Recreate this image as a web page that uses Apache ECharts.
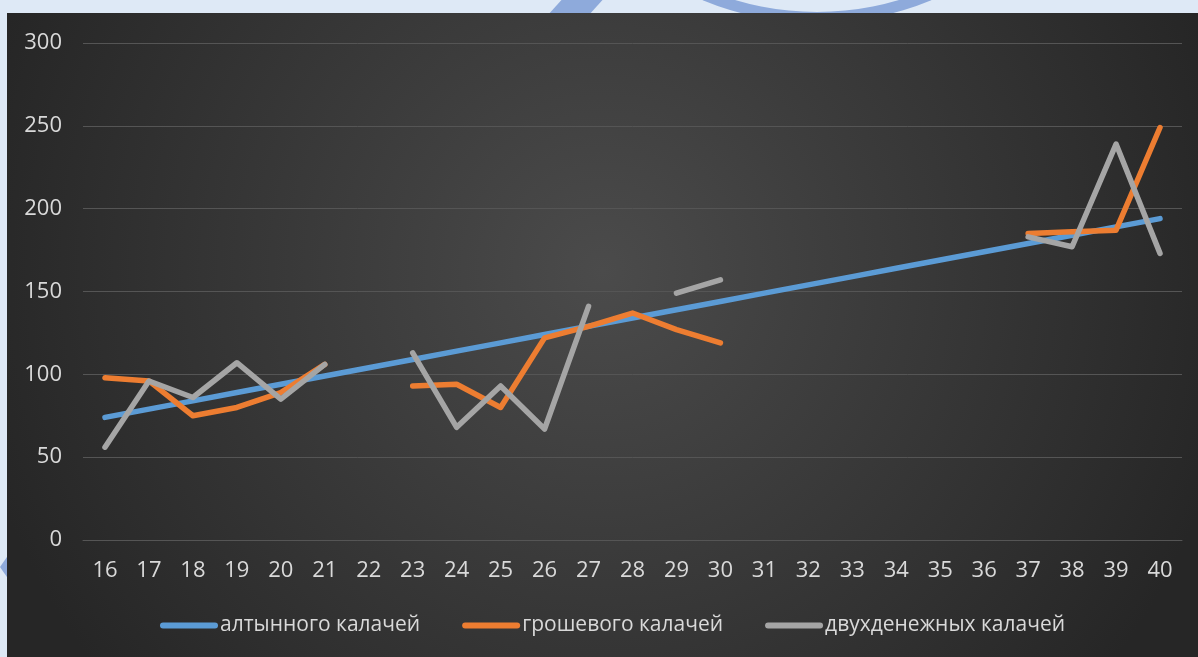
<!DOCTYPE html>
<html>
<head>
<meta charset="utf-8">
<script src="https://cdn.jsdelivr.net/npm/echarts@6/dist/echarts.min.js"></script>
<style>
html,body{margin:0;padding:0;background:#dee9f6;}
#chart{width:1198px;height:657px;}
</style>
</head>
<body>
<div id="chart"></div>
<script>
const categories = ['16','17','18','19','20','21','22','23','24','25','26','27','28','29','30','31','32','33','34','35','36','37','38','39','40'];
const altynnogo = [74,79,84,89,94,99,104,109,114,119,124,129,134,139,144,149,154,159,164,169,174,179,184,189,194];
const groshevogo = [98,96,75,80,89,106,null,93,94,80,122,129,137,127,119,null,null,null,null,null,null,185,186,187,249];
const dvukhdenezhnykh = [56,96,86,107,85,106,null,113,68,93,67,141,null,149,157,null,null,null,null,null,null,183,177,239,173];
const seriesNames = ['алтынного калачей','грошевого калачей','двухденежных калачей'];
const colors = ['#5b9bd5','#ed7d31','#a5a5a5'];
const yTicks = {min:0, max:300, interval:50};

const chart = echarts.init(document.getElementById('chart'));
const font = '"Open Sans", "Noto Sans", sans-serif';
const legendIcon = 'path://M3,0 L55,0 A3,3 0 0 1 55,6 L3,6 A3,3 0 0 1 3,0 Z';

function mk(i, data){
  return {
    name: seriesNames[i], type:'line', data:data, showSymbol:false, symbol:'none',
    connectNulls:false, smooth:false,
    lineStyle:{color:colors[i], width:5.5, cap:'round', join:'round'},
    itemStyle:{color:colors[i]}, emphasis:{disabled:true}
  };
}

chart.setOption({
  backgroundColor:'#dee9f6',
  animation:false,
  textStyle:{fontFamily:font},
  graphic:[
    {type:'ring', z:-30, silent:true, shape:{cx:817, cy:-274, r:297, r0:286}, style:{fill:'#8eaadb'}},
    {type:'polygon', z:-30, silent:true, shape:{points:[[566,-5],[607,-5],[588,16],[547,16]]}, style:{fill:'#8eaadb'}},
    {type:'polygon', z:-30, silent:true, shape:{points:[[0,567],[9,554],[9,580]]}, style:{fill:'#8eaadb'}},
    {type:'rect', z:-20, silent:true, shape:{x:7, y:13, width:1191, height:644},
     style:{fill:{type:'radial', x:0.5, y:0.4, r:1.0, colorStops:[{offset:0,color:'#4b4b4b'},{offset:1,color:'#262626'}]}}}
  ],
  grid:{left:83, right:16, top:43, bottom:117, containLabel:false},
  xAxis:{
    type:'category', data:categories, boundaryGap:true,
    axisLine:{show:true, lineStyle:{color:'#555555', width:1}},
    axisTick:{show:false},
    axisLabel:{color:'#d9d9d9', fontSize:22, fontFamily:font, margin:20, interval:0}
  },
  yAxis:{
    type:'value', min:yTicks.min, max:yTicks.max, interval:yTicks.interval,
    axisLine:{show:false}, axisTick:{show:false},
    splitLine:{show:true, lineStyle:{color:'#555555', width:1}},
    axisLabel:{color:'#d9d9d9', fontSize:22, fontFamily:font, margin:21}
  },
  legend:{
    bottom:16, left:155, itemGap:42, itemWidth:58, itemHeight:6,
    icon:legendIcon,
    textStyle:{color:'#d9d9d9', fontSize:21, fontFamily:font, padding:[0,0,0,-3]},
    data:seriesNames.map((n,i)=>({name:n, itemStyle:{color:colors[i]}}))
  },
  series:[mk(0,altynnogo), mk(1,groshevogo), mk(2,dvukhdenezhnykh)]
});
</script>
</body>
</html>
